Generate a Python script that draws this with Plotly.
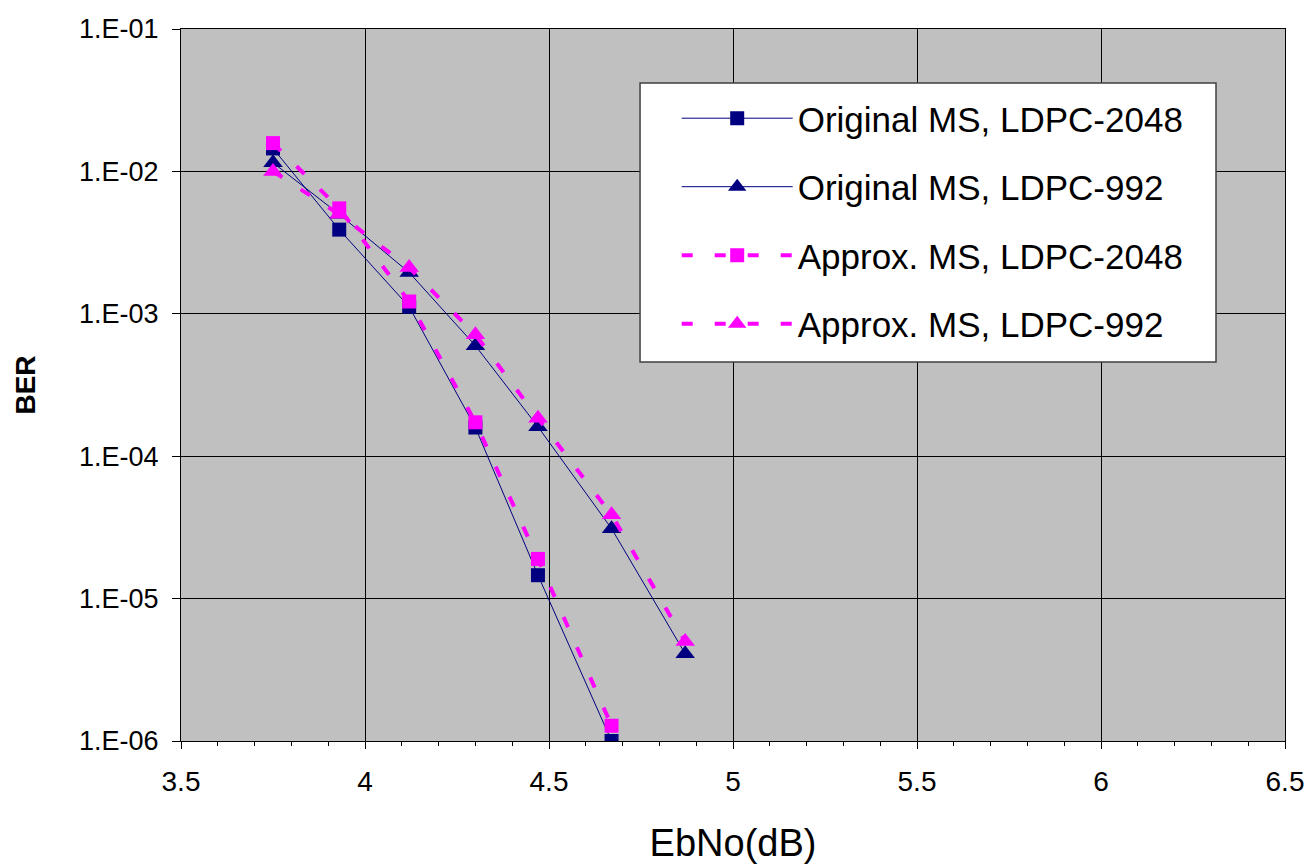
import plotly.graph_objects as go

# ---- data ----
ebno_2048 = [3.75, 3.93, 4.12, 4.30, 4.47, 4.67]
ebno_992 = [3.75, 3.93, 4.12, 4.30, 4.47, 4.67, 4.87]

orig_2048 = [0.0145, 0.0039, 0.00112, 0.000159, 1.46e-5, 1.0e-6]
orig_992 = [0.0115, 0.0050, 0.00195, 0.000597, 0.000161, 3.1e-5, 4.1e-6]
approx_2048 = [0.0158, 0.0055, 0.00122, 0.000173, 1.9e-5, 1.28e-6]
approx_992 = [0.0100, 0.0050, 0.00211, 0.000714, 0.000185, 3.88e-5, 5.0e-6]

series_names = [
    "Original MS, LDPC-2048",
    "Original MS, LDPC-992",
    "Approx. MS, LDPC-2048",
    "Approx. MS, LDPC-992",
]

y_tickvals = [1e-6, 1e-5, 1e-4, 1e-3, 1e-2, 1e-1]
y_ticktext = ["1.E-06", "1.E-05", "1.E-04", "1.E-03", "1.E-02", "1.E-01"]

NAVY = "#000080"
MAGENTA = "#FF00FF"
FONT = "Liberation Sans, Arial, sans-serif"

fig = go.Figure()

fig.add_trace(go.Scatter(
    x=ebno_2048, y=orig_2048, name=series_names[0], mode="lines+markers",
    line=dict(color=NAVY, width=1),
    marker=dict(symbol="square", size=14, color=NAVY),
    legendgroup="g1",
))
fig.add_trace(go.Scatter(
    x=ebno_992, y=orig_992, name=series_names[1], mode="lines+markers",
    line=dict(color=NAVY, width=1),
    marker=dict(symbol="triangle-up", size=17, color=NAVY),
    legendgroup="g2",
))
fig.add_trace(go.Scatter(
    x=ebno_2048, y=approx_2048, name=series_names[2], mode="lines+markers",
    line=dict(color=MAGENTA, width=4, dash="11px,22px"),
    marker=dict(symbol="square", size=14, color=MAGENTA),
    legendgroup="g3",
))
fig.add_trace(go.Scatter(
    x=ebno_992, y=approx_992, name=series_names[3], mode="lines+markers",
    line=dict(color=MAGENTA, width=4, dash="11px,22px"),
    marker=dict(symbol="triangle-up", size=17, color=MAGENTA),
    legendgroup="g4",
))

# white legend frame (decoration) behind the legend entries
fig.add_shape(
    type="rect", xref="paper", yref="paper",
    x0=0.4158, x1=0.9375, y0=0.5323, y1=0.9242,
    fillcolor="white", line=dict(color="#404040", width=1.5),
    layer="above",
)

fig.update_layout(
    width=1309, height=867,
    margin=dict(l=181, r=24, t=29, b=126, autoexpand=False),
    paper_bgcolor="white",
    plot_bgcolor="#C0C0C0",
    font=dict(family=FONT, color="black"),
    legend=dict(
        x=0.449, y=0.9158, xanchor="left", yanchor="top",
        bgcolor="rgba(0,0,0,0)", borderwidth=0,
        font=dict(family=FONT, size=35, color="black"),
        itemwidth=111, tracegroupgap=20,
    ),
    showlegend=True,
)

fig.update_xaxes(
    range=[3.5, 6.5], dtick=0.5, tick0=3.5,
    automargin=False,
    showgrid=True, gridcolor="black", gridwidth=1,
    showline=True, linecolor="black", linewidth=1, mirror=True,
    ticks="outside", ticklen=7, tickcolor="black",
    ticklabelstandoff=8, ticklabeloverflow="allow",
    minor=dict(dtick=0.1, ticks="outside", ticklen=4, tickcolor="black", showgrid=False),
    tickfont=dict(family=FONT, size=28, color="black"),
    title=dict(text="EbNo(dB)", font=dict(family=FONT, size=38, color="black"), standoff=33),
    zeroline=False,
)
fig.update_yaxes(
    type="log", range=[-6, -1],
    automargin=False,
    tickvals=y_tickvals, ticktext=y_ticktext,
    showgrid=True, gridcolor="black", gridwidth=1,
    showline=True, linecolor="black", linewidth=1, mirror=True,
    ticks="outside", ticklen=8, tickcolor="black",
    ticklabelstandoff=8,
    tickfont=dict(family=FONT, size=27, color="black"),
    title=dict(text="<b>BER</b>", font=dict(family=FONT, size=28, color="black"), standoff=35),
    zeroline=False,
)

# remove the browser's default 8 px page margin so the figure fills the window
fig.write_html(
    "out.html",
    config={"displayModeBar": False},
    post_script="document.body.style.margin='0px'; document.body.style.overflow='hidden';",
)
